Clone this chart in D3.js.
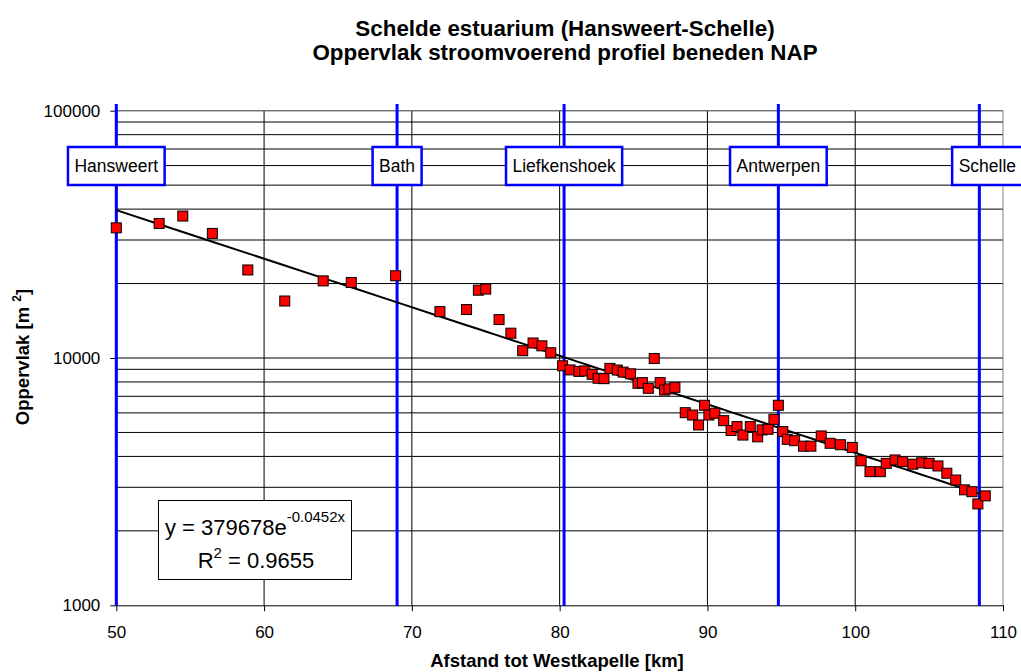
<!DOCTYPE html>
<html>
<head>
<meta charset="utf-8">
<style>

body {
  margin: 0;
  background: #fff;
}

svg {
  font-family: Arial, "Liberation Sans", sans-serif;
}

.grid line {
  stroke: #000;
  stroke-width: 1px;
}

.axis path, .axis line {
  stroke: #000;
  stroke-width: 1px;
}

.axis text {
  font-size: 17px;
  fill: #000;
}

.title {
  font-weight: bold;
  font-size: 22.4px;
}

.axis-title {
  font-weight: bold;
  font-size: 18.5px;
}

.station rect {
  fill: #fff;
  stroke: #0000ff;
  stroke-width: 2.5px;
}

.station text {
  font-size: 17.5px;
}

</style>
</head>
<body>
<svg width="1021" height="672"></svg>
<script src="https://cdn.jsdelivr.net/npm/d3@7"></script>
<script>

// afstand tot Westkapelle [km]
var km = [50.0, 52.9, 54.5, 56.5, 58.9, 61.4, 64.0, 65.9, 68.9, 71.9,
  73.7, 74.5, 75.0, 75.9, 76.7, 77.5, 78.2, 78.8, 79.4, 80.2,
  80.7, 81.3, 81.7, 82.2, 82.6, 83.0, 83.4, 83.9, 84.3, 84.8,
  85.3, 85.6, 86.0, 86.4, 86.8, 87.1, 87.4, 87.8, 88.5, 89.0,
  89.4, 89.8, 90.1, 90.5, 91.1, 91.6, 92.0, 92.4, 92.9, 93.4,
  93.7, 94.1, 94.5, 94.8, 95.1, 95.4, 95.9, 96.5, 97.0, 97.7,
  98.3, 99.0, 99.8, 100.4, 101.0, 101.7, 102.1, 102.7, 103.2, 103.9,
  104.5, 105.0, 105.6, 106.2, 106.8, 107.4, 107.9, 108.3, 108.8];

// oppervlak stroomvoerend profiel [m2]
var area = [33600, 35000, 37500, 31900, 22700, 17000, 20500, 20200, 21500, 15400,
  15700, 18800, 19000, 14300, 12600, 10700, 11500, 11200, 10500, 9300,
  8950, 8830, 8860, 8590, 8280, 8250, 9080, 8940, 8770, 8630,
  7900, 7950, 7540, 9950, 7950, 7420, 7500, 7610, 6010, 5880,
  5360, 6440, 5880, 5980, 5580, 5090, 5280, 4880, 5280, 4800,
  5120, 5150, 5650, 6440, 5040, 4690, 4630, 4400, 4400, 4840,
  4520, 4460, 4350, 3840, 3470, 3470, 3750, 3870, 3810, 3720,
  3770, 3750, 3660, 3420, 3210, 2930, 2880, 2570, 2770];

var stations = ["Hansweert", "Bath", "Liefkenshoek", "Antwerpen", "Schelle"];
var stationKm = [50, 69.0, 80.3, 94.8, 108.4];

var xTicks = [50, 60, 70, 80, 90, 100, 110];
var yTicks = [1000, 10000, 100000];

// exponentiele trendlijn zoals in de grafiek vermeld
var trendA = 379678;
var trendB = -0.0452;
var trendR2 = "0.9655";

var svg = d3.select("svg");

var plotLeft = 116.3, plotRight = 1003, plotTop = 110.7, plotBottom = 605.3;

var x = d3.scaleLinear()
    .domain([50, 110])
    .range([plotLeft, plotRight]);

var y = d3.scaleLog()
    .domain([1000, 100000])
    .range([plotBottom, plotTop]);

// titel
svg.append("text")
    .attr("class", "title")
    .attr("x", 565).attr("y", 36)
    .attr("text-anchor", "middle")
    .text("Schelde estuarium (Hansweert-Schelle)");
svg.append("text")
    .attr("class", "title")
    .attr("x", 565).attr("y", 60)
    .attr("text-anchor", "middle")
    .text("Oppervlak stroomvoerend profiel beneden NAP");

// rasterlijnen
var grid = svg.append("g").attr("class", "grid");

grid.selectAll(".h")
    .data(y.ticks().filter(function(v) { return v > 1000; }))
    .enter().append("line")
    .attr("x1", plotLeft).attr("x2", plotRight)
    .attr("y1", function(d) { return y(d); })
    .attr("y2", function(d) { return y(d); });

grid.selectAll(".v")
    .data(xTicks.slice(1, -1))
    .enter().append("line")
    .attr("y1", plotTop).attr("y2", plotBottom)
    .attr("x1", function(d) { return x(d); })
    .attr("x2", function(d) { return x(d); });

// rand van plotgebied
svg.append("path")
    .attr("d", "M" + plotLeft + "," + plotTop + "H" + plotRight + "V" + plotBottom)
    .attr("fill", "none")
    .attr("stroke", "#808080")
    .attr("stroke-width", 1);

// assen
svg.append("g")
    .attr("class", "axis")
    .attr("transform", "translate(0," + plotBottom + ")")
    .call(d3.axisBottom(x).tickValues(xTicks).tickSize(6).tickSizeOuter(0).tickPadding(15));

svg.append("g")
    .attr("class", "axis")
    .attr("transform", "translate(" + plotLeft + ",0)")
    .call(d3.axisLeft(y).tickValues(yTicks).tickFormat(d3.format("d")).tickSize(6).tickSizeOuter(0).tickPadding(10));

svg.append("text")
    .attr("class", "axis-title")
    .attr("x", 557).attr("y", 667)
    .attr("text-anchor", "middle")
    .text("Afstand tot Westkapelle [km]");

var yt = svg.append("text")
    .attr("class", "axis-title")
    .attr("transform", "translate(29,357) rotate(-90)")
    .attr("text-anchor", "middle");
yt.append("tspan").text("Oppervlak [m ");
yt.append("tspan").attr("font-size", "12px").attr("dy", -8).text("2");
yt.append("tspan").attr("dy", 8).text("]");

// locaties (blauwe lijnen)
svg.selectAll(".loc")
    .data(stationKm)
    .enter().append("line")
    .attr("class", "loc")
    .attr("x1", function(d) { return x(d); })
    .attr("x2", function(d) { return x(d); })
    .attr("y1", 104).attr("y2", 606)
    .attr("stroke", "#0000ff")
    .attr("stroke-width", 3);

// trendlijn
var line = d3.line()
    .x(function(d) { return x(d); })
    .y(function(d) { return y(trendA * Math.exp(trendB * d)); });

svg.append("path")
    .datum(km)
    .attr("d", line)
    .attr("fill", "none")
    .attr("stroke", "#000")
    .attr("stroke-width", 2);

// meetpunten
svg.selectAll(".pt")
    .data(km)
    .enter().append("rect")
    .attr("class", "pt")
    .attr("x", function(d) { return x(d) - 5; })
    .attr("y", function(d, i) { return y(area[i]) - 5; })
    .attr("width", 10).attr("height", 10)
    .attr("fill", "#ff0000")
    .attr("stroke", "#000")
    .attr("stroke-width", 1);

// labels van de locaties
var st = svg.selectAll(".station")
    .data(stations)
    .enter().append("g")
    .attr("class", "station");

st.each(function(name, i) {
  var g = d3.select(this);
  var r = g.append("rect");
  var t = g.append("text")
      .attr("y", 172)
      .attr("text-anchor", "middle")
      .text(name);
  var w = t.node().getComputedTextLength() + 13;
  var cx = x(stationKm[i]);
  if (i === stations.length - 1) cx += 8;
  t.attr("x", cx);
  r.attr("x", cx - w / 2).attr("y", 147)
   .attr("width", w).attr("height", 38);
});

// vergelijking
var eq = svg.append("g");
eq.append("rect")
    .attr("x", 158.5).attr("y", 500.5)
    .attr("width", 193).attr("height", 79)
    .attr("fill", "#fff")
    .attr("stroke", "#000")
    .attr("stroke-width", 1);

var l1 = eq.append("text")
    .attr("x", 255).attr("y", 535)
    .attr("text-anchor", "middle")
    .attr("font-size", "22px");
l1.append("tspan").text("y = " + trendA + "e");
l1.append("tspan").attr("font-size", "15px").attr("dy", -13).text(trendB + "x");

var l2 = eq.append("text")
    .attr("x", 256).attr("y", 568)
    .attr("text-anchor", "middle")
    .attr("font-size", "22px");
l2.append("tspan").text("R");
l2.append("tspan").attr("font-size", "15px").attr("dy", -10).text("2");
l2.append("tspan").attr("dy", 10).text(" = " + trendR2);

</script>
</body>
</html>
